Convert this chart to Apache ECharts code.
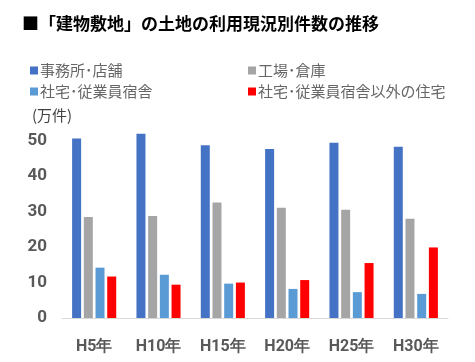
<!DOCTYPE html>
<html><head><meta charset="utf-8">
<script src="https://cdn.jsdelivr.net/npm/echarts@6/dist/echarts.min.js"></script>
<style>html,body{margin:0;padding:0;background:#fff}#c{width:475px;height:362px}</style>
</head><body><div id="c"></div>
<script>
const categories = ['H5年','H10年','H15年','H20年','H25年','H30年'];
const seriesNames = ['事務所･店舗','工場･倉庫','社宅･従業員宿舎','社宅･従業員宿舎以外の住宅'];
const office = [50.6, 52.0, 48.7, 47.7, 49.4, 48.3];
const factory = [28.5, 28.8, 32.6, 31.1, 30.5, 28.0];
const dorm = [14.2, 12.2, 9.7, 8.2, 7.3, 6.8];
const otherHousing = [11.7, 9.4, 10.0, 10.7, 15.5, 19.9];
const yTicks = [0, 10, 20, 30, 40, 50];
const colors = ['#4472C4','#A5A5A5','#5B9BD5','#FF0000'];
const values = [office, factory, dorm, otherHousing];

const chart = echarts.init(document.getElementById('c'));
const font = '"Noto Sans CJK JP", sans-serif';
const legendText = {fontFamily: font, fontSize: 15, color: '#666', padding: [0,0,0,-3]};
chart.setOption({
  animation: false,
  title: {
    text: '■「建物敷地」の土地の利用現況別件数の推移',
    left: 17, top: 10,
    textStyle: {fontFamily: font, fontSize: 17, fontWeight: 'bold', color: '#000'}
  },
  legend: [
    {data: [seriesNames[0], seriesNames[2]], orient: 'vertical', left: 25, top: 58,
     itemWidth: 8, itemHeight: 8, itemGap: 6, icon: 'rect', textStyle: legendText},
    {data: [seriesNames[1], seriesNames[3]], orient: 'vertical', left: 243, top: 58,
     itemWidth: 8, itemHeight: 8, itemGap: 6, icon: 'rect', textStyle: legendText}
  ],
  graphic: [{type: 'text', left: 32, top: 108,
    style: {text: '(万件)', fontFamily: font, fontSize: 15, fill: '#404040'}}],
  grid: {left: 62, right: 27, top: 123, bottom: 44},
  xAxis: {
    type: 'category', data: categories,
    axisLine: {lineStyle: {color: '#D9D9D9'}},
    axisTick: {show: false},
    axisLabel: {margin: 21, fontFamily: 'Roboto, sans-serif', fontWeight: 'bold', fontSize: 16, color: '#595959'}
  },
  yAxis: {
    type: 'value', min: 0, max: 55, interval: 10,
    splitLine: {show: false},
    axisLine: {show: false}, axisTick: {show: false},
    axisLabel: {margin: 15, fontFamily: 'Roboto, sans-serif', fontWeight: 'bold', fontSize: 17, color: '#595959',
      formatter: v => yTicks.includes(v) ? String(v) : ''}
  },
  series: values.map((d, i) => ({
    name: seriesNames[i], type: 'bar', data: d,
    barWidth: 9, barGap: '30%', barCategoryGap: '30%',
    itemStyle: {color: colors[i]}
  }))
});
</script></body></html>
